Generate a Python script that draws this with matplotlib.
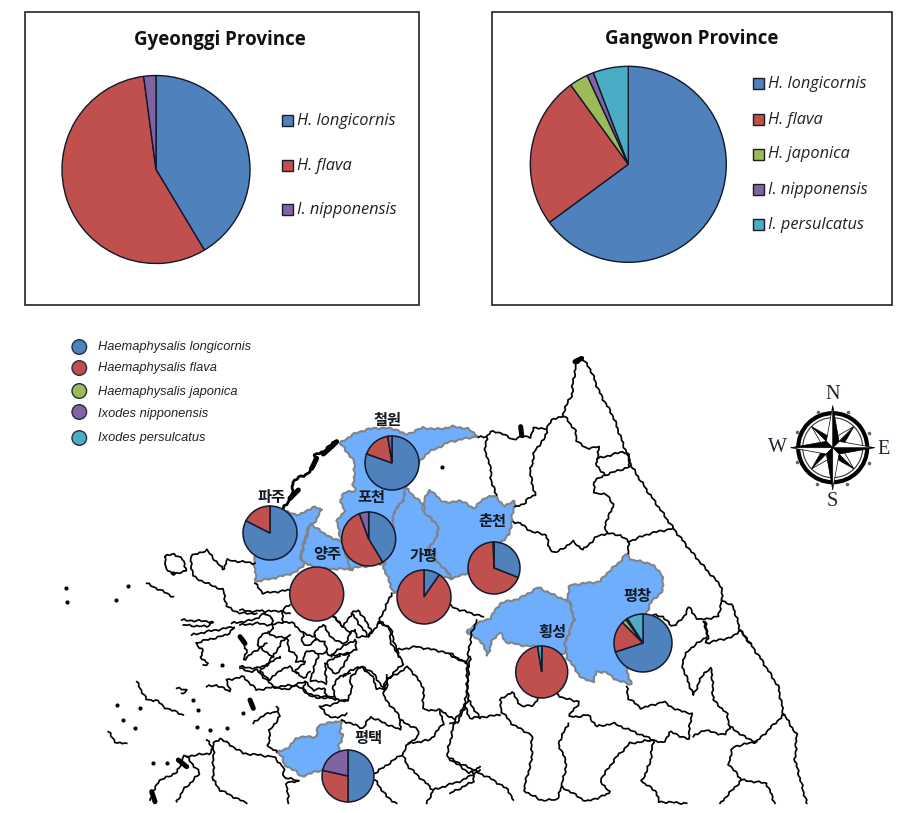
#!/usr/bin/env python3
"""Tick species share: two province pies and a pie map of sampling sites."""
import numpy as np
import matplotlib
matplotlib.use('Agg')
import matplotlib.pyplot as plt
from matplotlib.patches import Rectangle, Circle, Polygon

W, H = 899, 813

BLUE, RED, GREEN, PURPLE, TEAL = '#4F81BD', '#C0504D', '#9BBB59', '#8064A2', '#4BACC6'
MAP_BLUE = '#6FAEFC'

# province pies
gyeonggi_species = ['H. longicornis', 'H. flava', 'I. nipponensis']
gyeonggi_values = [41.4, 56.5, 2.1]
gyeonggi_colors = [BLUE, RED, PURPLE]

gangwon_species = ['H. longicornis', 'H. flava', 'H. japonica', 'I. nipponensis', 'I. persulcatus']
gangwon_values = [64.9, 25.1, 3.1, 1.1, 5.8]
gangwon_colors = [BLUE, RED, GREEN, PURPLE, TEAL]

# map pies, values in order longicornis, flava, japonica, nipponensis, persulcatus
site_names = ['철원', '파주', '포천', '양주', '가평', '춘천', '평창', '횡성', '평택']
cheorwon = [80.5, 17.0, 0, 2.5, 0]
paju = [82.5, 17.5, 0, 0, 0]
pocheon = [41.4, 53.0, 0, 5.6, 0]
yangju = [0, 100, 0, 0, 0]
gapyeong = [9.6, 90.4, 0, 0, 0]
chuncheon = [31.0, 68.5, 0, 0.5, 0]
pyeongchang = [70.0, 17.5, 2.5, 1.0, 9.0]
hoengseong = [0.3, 97.2, 0, 0, 2.5]
pyeongtaek = [50.0, 28.5, 0, 21.5, 0]
site_values = [cheorwon, paju, pocheon, yangju, gapyeong, chuncheon, pyeongchang, hoengseong, pyeongtaek]

map_species = ['Haemaphysalis longicornis', 'Haemaphysalis flava', 'Haemaphysalis japonica',
               'Ixodes nipponensis', 'Ixodes persulcatus']
map_colors = [BLUE, RED, GREEN, PURPLE, TEAL]

# where the pies sit on the map image (x, y, radius in image pixels)
site_pies = [(392, 463, 27), (270, 533, 27), (368.7, 539, 27), (316.7, 594, 27), (424, 597, 27),
             (494, 568, 26), (643, 643, 29), (541.7, 672, 26), (348, 776, 26)]
site_labels = [(388, 420), (272, 497), (371, 497), (327, 554), (424, 556), (492, 521), (637, 596), (552, 632), (368, 738)]


def z1(pts):
    return [(x / 3 + 50, y / 3 + 330) for x, y in pts]


def z2(pts):
    return [(x / 3 + 450, y / 3 + 350) for x, y in pts]


def z3(pts):
    return [(x / 3 + 50, y / 3 + 600) for x, y in pts]


def z4(pts):
    return [(x / 3 + 450, y / 3 + 600) for x, y in pts]


def z8(pts):
    return [(x / 3 + 240, y / 3 + 600) for x, y in pts]


regions = [
    z1([(705, 545), (735, 552), (750, 555), (790, 530), (815, 540), (795, 575), (775, 590), (750, 680), (765, 700),
        (740, 725), (690, 740), (618, 755), (612, 685), (640, 600), (680, 560)]),
    z1([(780, 585), (810, 598), (820, 612), (875, 635), (910, 718), (800, 715), (765, 700), (752, 680)]),
    z1([(870, 340), (905, 315), (950, 298), (1000, 293), (1045, 300), (1065, 315), (1120, 293), (1160, 298), (1210, 290),
        (1250, 295), (1285, 318), (1200, 335), (1130, 370), (1090, 420), (1068, 475), (1060, 510), (1030, 550),
        (1030, 600), (1000, 700), (950, 708), (900, 715), (875, 635), (860, 575), (885, 540), (870, 510), (880, 490),
        (920, 480), (910, 470), (915, 400), (895, 370)]),
    z1([(1068, 475), (1115, 520), (1125, 550), (1165, 585), (1160, 625), (1130, 660), (1210, 745), (1170, 740), (1120, 760), (1030, 790),
        (1020, 760), (1000, 710), (1030, 600), (1030, 550), (1060, 510)]),
    z1([(1125, 550), (1120, 515), (1140, 478), (1170, 510), (1200, 520), (1230, 510), (1270, 535), (1310, 500), (1335, 498),
        (1365, 530), (1395, 510), (1385, 570), (1380, 610), (1340, 650), (1250, 730), (1210, 745), (1130, 660),
        (1160, 625), (1165, 585)]),
    z4([(50, 97), (75, 73), (120, 55), (150, 10), (210, -5), (265, -38), (310, -15), (360, 5), (372, 60), (345, 130),
        (348, 160), (300, 170), (260, 140), (210, 135), (165, 125), (150, 95), (125, 125), (112, 170), (105, 140), (75, 110)]),
    z4([(360, 5), (350, 0), (360, -45), (450, -55), (470, -80), (505, -110), (530, -140), (545, -120), (600, -110),
        (635, -80), (640, -30), (600, 10), (590, 40), (520, 150), (530, 210), (545, 255), (500, 240), (465, 215),
        (440, 215), (430, 245), (395, 235), (350, 170), (345, 130), (372, 60)]),
    z3([(680, 458), (720, 440), (740, 412), (800, 410), (805, 375), (860, 365), (875, 360), (870, 395), (880, 405),
        (865, 440), (870, 450), (880, 500), (815, 510), (750, 530), (735, 510), (700, 495), (700, 470)]),
]

black_lines = [
    # north border
    z2([(85, 262), (110, 260), (120, 245), (160, 250), (185, 270), (210, 260), (240, 262), (250, 235), (290, 235), (310, 205),
        (340, 200), (345, 170), (365, 140), (370, 90), (380, 40), (395, 25), (420, 55), (450, 130), (490, 200), (515, 270),
        (530, 310), (545, 350), (590, 420), (625, 470), (670, 535), (720, 600), (770, 660), (815, 710), (815, 750),
        (850, 770), (870, 840), (900, 880)]),
    z4([(870, 90), (900, 130), (935, 180), (985, 260), (1000, 340), (1040, 405), (1035, 480), (1070, 610)]),
    # Gangwon north and east counties
    z2([(110, 260), (105, 310), (120, 340), (125, 400), (140, 435)]),
    z2([(290, 240), (285, 265), (255, 300), (240, 370), (255, 435), (235, 445), (225, 460), (195, 470)]),
    z2([(345, 200), (375, 240), (380, 270), (405, 295), (445, 290), (445, 325), (435, 340), (465, 375)]),
    z2([(445, 325), (520, 305), (535, 310), (540, 350), (465, 375), (430, 395), (435, 430), (475, 435), (490, 470), (465, 520),
        (470, 550), (510, 555), (535, 575), (600, 550), (670, 535)]),
    z2([(470, 550), (440, 560), (400, 600), (370, 575), (315, 610), (295, 590), (290, 555), (245, 545), (210, 520), (190, 515)]),
    z2([(535, 575), (535, 610)]),
    z2([(610, 795), (640, 800), (665, 830), (700, 805), (715, 770), (745, 810), (805, 800), (815, 750)]),
    z2([(-5, 765), (30, 780), (100, 800)]),
    z2([(760, 815), (775, 860), (765, 880), (850, 860), (870, 840)]),
    # south Gangwon
    z4([(765, 65), (775, 105), (750, 125), (715, 150), (695, 190), (705, 220), (730, 285), (760, 220), (785, 205), (790, 300),
        (830, 340), (840, 380)]),
    z4([(530, 260), (535, 295), (575, 325), (640, 305), (680, 330), (725, 340), (715, 410), (720, 420), (660, 395), (640, 430),
        (610, 420), (575, 405), (490, 370), (440, 380), (415, 345), (380, 350), (355, 350), (390, 305), (340, 295), (320, 280)]),
    z4([(840, 380), (890, 415), (920, 425), (1000, 345)]),
    z4([(730, 410), (760, 390), (825, 405), (840, 380)]),
    z4([(920, 425), (850, 440), (835, 490), (875, 540), (810, 610)]),
    z4([(875, 540), (950, 550), (975, 610)]),
    z4([(610, 420), (600, 490), (575, 545), (620, 575), (625, 605), (710, 610)]),
    z4([(150, 300), (185, 275), (215, 320), (250, 315), (270, 290)]),
    z4([(150, 300), (155, 335), (190, 375), (245, 405), (245, 480), (220, 570), (270, 600), (320, 600), (335, 560), (410, 605),
        (480, 580), (450, 540), (500, 470), (540, 430), (610, 420)]),
    z4([(355, 370), (325, 430), (350, 490), (335, 560)]),
    z4([(60, 170), (50, 270), (45, 320), (60, 355), (150, 345)]),
    z4([(45, 320), (25, 365), (0, 370)]),
    z4([(0, 160), (50, 190)]),
    z4([(0, 475), (70, 510), (70, 545), (0, 580)]),
    z4([(70, 510), (130, 540), (175, 570), (190, 600)]),
    # Gyeonggi south and Chungcheong
    z1([(1025, 790), (985, 880)]),
    z3([(985, 70), (1020, 80), (1040, 150), (1060, 190), (1010, 240), (1000, 265)]),
    z3([(1040, 150), (1100, 140), (1180, 155), (1250, 190), (1265, 100), (1280, 60)]),
    z3([(1250, 190), (1255, 300), (1215, 360), (1170, 330), (1120, 330), (1120, 260), (1075, 200), (1010, 240), (1000, 290),
        (1050, 350), (1050, 390), (960, 350), (940, 385), (875, 360)]),
    z3([(1050, 360), (1105, 390), (1105, 410), (1075, 430), (1060, 460), (975, 520)]),
    z3([(1075, 430), (1140, 420), (1180, 370), (1170, 330)]),
    z3([(1215, 360), (1190, 470), (1260, 520), (1290, 500)]),
    z3([(1060, 470), (1075, 500), (1150, 570), (1130, 610)]),
    z3([(1150, 570), (1240, 540), (1290, 510)]),
    z3([(975, 540), (1010, 590), (1040, 610)]),
    z3([(1255, 300), (1290, 355)]),
    z3([(880, 230), (900, 210), (940, 200), (970, 220), (1000, 265)]),
    z3([(890, 340), (860, 355), (830, 345), (810, 320), (840, 315), (870, 305), (890, 300)]),
    # Seoul and Incheon cells
    z8([(0, 75), (50, 70), (95, 75), (130, 65), (160, 70), (190, 100), (220, 110), (230, 90), (250, 75)]),
    z8([(95, 55), (100, 90), (85, 95), (90, 105), (140, 115), (150, 105)]),
    z8([(140, 115), (150, 155), (170, 165), (170, 185), (195, 185)]),
    z8([(190, 100), (185, 125), (205, 140), (225, 120), (225, 105)]),
    z8([(225, 120), (255, 125), (260, 155), (240, 165), (215, 150), (195, 160), (190, 180)]),
    z8([(250, 75), (280, 120), (320, 130), (330, 100), (300, 70), (280, 50)]),
    z8([(280, 50), (310, 80), (335, 40), (385, 110), (350, 110), (345, 90)]),
    z8([(335, 40), (355, 30), (395, 90), (385, 110)]),
    z8([(345, 120), (350, 150), (300, 165), (265, 165), (260, 155)]),
    z8([(345, 120), (290, 150), (275, 170)]),
    z8([(235, 165), (210, 240), (260, 250), (255, 190), (300, 165)]),
    z8([(255, 190), (290, 225), (330, 165), (310, 165)]),
    z8([(195, 185), (165, 215), (190, 235), (210, 215)]),
    z8([(60, 215), (100, 170), (80, 160), (50, 130), (60, 110), (85, 95)]),
    z8([(60, 215), (90, 240), (120, 210), (150, 200), (170, 220)]),
    z8([(100, 170), (125, 125), (140, 115)]),
    z8([(195, 245), (220, 270), (255, 265), (260, 290), (285, 300), (280, 260), (290, 235), (330, 220)]),
    z8([(195, 245), (190, 265), (210, 285), (260, 290)]),
    z8([(285, 300), (325, 300), (335, 270), (330, 235), (360, 200), (395, 225), (410, 265), (440, 270), (440, 225)]),
    z8([(420, 65), (450, 85), (450, 120), (470, 160), (480, 170)]),
    z8([(385, 110), (420, 65)]),
    z8([(0, 30), (50, 35), (65, 30), (95, 55)]),
    z8([(0, 205), (30, 215), (50, 210), (100, 260), (140, 270), (165, 255), (195, 245)]),
    z8([(130, 65), (125, 30), (150, 15)]),
    z8([(330, 100), (345, 90)]),
    # west coast and islands
    z1([(615, 700), (530, 690), (520, 720), (470, 660), (420, 680), (430, 740), (470, 760), (520, 780), (530, 830), (570, 850), (620, 850)]),
    z1([(345, 680), (370, 670), (400, 690), (410, 720), (370, 735), (345, 710), (345, 680)]),
    z1([(290, 760), (330, 780), (370, 800)]),
    z1([(615, 760), (640, 790), (720, 780)]),
    z1([(545, 880), (610, 870), (660, 840), (720, 850)]),
    z3([(395, 60), (490, 65), (470, 80), (400, 75)]),
    z3([(425, 105), (470, 95), (555, 80), (530, 105), (470, 120), (435, 130), (460, 150), (450, 170), (475, 190), (460, 195)]),
    z3([(570, 200), (620, 205), (650, 195), (690, 170)]),
    z3([(570, 110), (590, 150), (580, 180), (620, 150), (650, 130)]),
    z3([(470, 260), (500, 255), (540, 275), (530, 240), (580, 230), (620, 270), (680, 260), (740, 255), (770, 280), (800, 295), (850, 290)]),
    z3([(260, 245), (290, 300), (320, 300), (340, 320), (400, 345)]),
    z3([(680, 320), (690, 350), (660, 390), (655, 440), (680, 455)]),
    z3([(610, 370), (640, 345), (680, 335)]),
    z3([(490, 540), (490, 430), (510, 415), (580, 460), (670, 470), (700, 500), (700, 530), (750, 545), (710, 545), (715, 610)]),
    z3([(490, 540), (510, 570), (590, 610)]),
    z3([(470, 420), (490, 445), (480, 460), (400, 470), (380, 520), (350, 530), (320, 550), (300, 600)]),
    z3([(410, 470), (450, 520), (400, 570), (380, 605)]),
    z3([(175, 395), (200, 430), (230, 430)]),
    z3([(380, 265), (415, 270), (395, 280)]),
]

# the DMZ stretch west of Cheorwon is drawn heavier in the source map
dmz_line = z1([(700, 535), (715, 515), (730, 490), (725, 460), (750, 440), (775, 430), (790, 410), (795, 375), (820, 365),
               (855, 335)])

thick_lines = [
    z1([(860, 335), (845, 350), (820, 372)]),
    z1([(800, 385), (785, 415)]),
    z1([(745, 480), (720, 505)]),
    z2([(375, 35), (395, 25)]),
    z2([(212, 230), (215, 255)]),
    z3([(570, 110), (585, 130)]),
    z3([(600, 300), (610, 325)]),
    z3([(305, 575), (315, 605)]),
    z3([(385, 480), (410, 500)]),
]

island_dots = (z1([(48, 775), (50, 815), (197, 810), (235, 768), (370, 730), (1175, 412)])
               + z3([(200, 315), (255, 385), (440, 380), (270, 325), (530, 385), (480, 390), (220, 360), (515, 195),
                     (445, 330), (430, 300), (580, 340), (310, 490), (350, 490)]))


def flip(pts):
    return [(x, H - y) for x, y in pts]


def wiggle(pts, closed=False):
    # the traces only keep the main bends, this puts back the fine shake of a county border
    p = np.array(pts + pts[:1] if closed else pts, dtype=float)
    seg = np.hypot(*np.diff(p, axis=0).T)
    s = np.concatenate([[0], np.cumsum(seg)])
    t = np.arange(0, s[-1] + 2, 2.5)
    t[-1] = s[-1]
    x, y = np.interp(t, s, p[:, 0]), np.interp(t, s, p[:, 1])
    dx, dy = np.gradient(x), np.gradient(y)
    norm = np.hypot(dx, dy) + 1e-9
    off = 0.8 * np.sin(t * 0.85) + 0.5 * np.sin(t * 0.37 + 1.0)
    off[0] = off[-1] = 0
    return x - dy / norm * off, y + dx / norm * off


def draw_province_pie(ax, box, title, title_xy, center, radius, values, colors, species, legend_x, legend_ys):
    x0, y0, x1, y1 = box
    ax.add_patch(Rectangle((x0, H - y1), x1 - x0, y1 - y0, fc='white', ec='#222222', lw=1.2, zorder=1))
    ax.text(title_xy[0], H - title_xy[1], title, ha='center', va='center', fontsize=13.5,
            fontweight='bold', family='Open Sans', color='#111111', zorder=5)
    ax.pie(values, colors=colors, center=(center[0], H - center[1]), radius=radius, startangle=90, counterclock=False,
           wedgeprops={'edgecolor': '#10182a', 'linewidth': 1.0, 'zorder': 3})
    for name, col, ly in zip(species, colors, legend_ys):
        ax.add_patch(Rectangle((legend_x, H - ly - 5.5), 11, 11, fc=col, ec='#1a1a2a', lw=1.0, zorder=3))
        ax.text(legend_x + 15, H - ly, name, style='italic', family='Open Sans', fontsize=11.8,
                color='#222222', va='center', ha='left', zorder=5)


def draw_compass(ax, cx, cy):
    cy = H - cy
    ax.add_patch(Circle((cx, cy), 34.5, fc='none', ec='black', lw=3.0, zorder=3))
    ax.add_patch(Circle((cx, cy), 30, fc='none', ec='#333333', lw=0.8, zorder=3))
    # diagonal arms first, main arms on top
    for deg, length, half in [(a, 30, 9) for a in (45, 135, 225, 315)] + [(a, 42, 9) for a in (0, 90, 180, 270)]:
        t = np.radians(deg)
        tip = (cx + length * np.cos(t), cy + length * np.sin(t))
        s1 = (cx + half * np.cos(t + np.pi / 4), cy + half * np.sin(t + np.pi / 4))
        s2 = (cx + half * np.cos(t - np.pi / 4), cy + half * np.sin(t - np.pi / 4))
        ax.add_patch(Polygon([(cx, cy), s2, tip], fc='black', ec='black', lw=0.5, zorder=4))
        ax.add_patch(Polygon([(cx, cy), s1, tip], fc='white', ec='black', lw=0.5, zorder=4))
    for deg in range(22, 360, 45):
        t = np.radians(deg)
        ax.plot(cx + 39 * np.cos(t), cy + 39 * np.sin(t), 'o', ms=1.6, color='#666666', zorder=3)
    for s, dx, dy in [('N', 0, 53), ('S', 0, -54), ('W', -55, 0), ('E', 51, -2)]:
        ax.text(cx + dx, cy + dy, s, family='Liberation Serif', fontsize=14.5, color='#1c2430',
                ha='center', va='center', zorder=5)


def main():
    fig = plt.figure(figsize=(W / 100, H / 100), dpi=100)
    ax = fig.add_axes([0, 0, 1, 1])

    draw_province_pie(ax, (25, 12, 419, 305), 'Gyeonggi Province', (220, 40), (156, 169.5), 94,
                      gyeonggi_values, gyeonggi_colors, gyeonggi_species, 282, [121, 165.5, 210])
    draw_province_pie(ax, (492, 12, 892, 305), 'Gangwon Province', (692, 39.5), (628.3, 164.3), 98,
                      gangwon_values, gangwon_colors, gangwon_species, 753, [83.5, 119.5, 154.5, 190, 225])

    for reg in regions:
        x, y = wiggle(flip(reg), closed=True)
        ax.add_patch(Polygon(np.column_stack([x, y]), closed=True, fc=MAP_BLUE, ec='#7f8488', lw=1.5,
                             zorder=1.5, joinstyle='round'))
    for pts in black_lines:
        x, y = wiggle(flip(pts))
        ax.plot(x, y, color='black', lw=1.25, zorder=2, solid_joinstyle='round')
    x, y = wiggle(flip(dmz_line))
    ax.plot(x, y, color='black', lw=2.0, zorder=2, solid_joinstyle='round')
    for pts in thick_lines:
        xs, ys = zip(*flip(pts))
        ax.plot(xs, ys, color='black', lw=3.6, zorder=2, solid_capstyle='round')
    xs, ys = zip(*flip(island_dots))
    ax.plot(xs, ys, 'o', ms=2.0, color='black', ls='none', zorder=2)

    for vals, (px, py, r) in zip(site_values, site_pies):
        # empty species would leave a stray spoke on the pie
        shown = [(v, c) for v, c in zip(vals, map_colors) if v > 0]
        ax.pie([v for v, c in shown], colors=[c for v, c in shown], center=(px, H - py), radius=r,
               startangle=90, counterclock=False,
               wedgeprops={'edgecolor': '#121a2e', 'linewidth': 1.1, 'zorder': 3})
    for name, (lx, ly) in zip(site_names, site_labels):
        ax.text(lx, H - ly, name, family='Noto Sans CJK KR', fontweight='bold', fontsize=11,
                color='#101820', ha='center', va='center', zorder=5)

    for name, col, cy, ty in zip(map_species, map_colors, [347, 368, 391, 412, 438], [347, 368, 392, 414, 438]):
        ax.add_patch(Circle((79.3, H - cy), 7.3, fc=col, ec='#22303a', lw=1.0, zorder=3))
        ax.text(98, H - ty, name, style='italic', family='Liberation Sans', fontsize=9.3,
                color='#222222', va='center', ha='left', zorder=5)

    draw_compass(ax, 832.7, 447.7)

    ax.set_xlim(0, W)
    ax.set_ylim(0, H)
    ax.set_aspect('auto')
    ax.axis('off')
    fig.savefig('out.png', dpi=100, facecolor='white')


if __name__ == '__main__':
    main()
